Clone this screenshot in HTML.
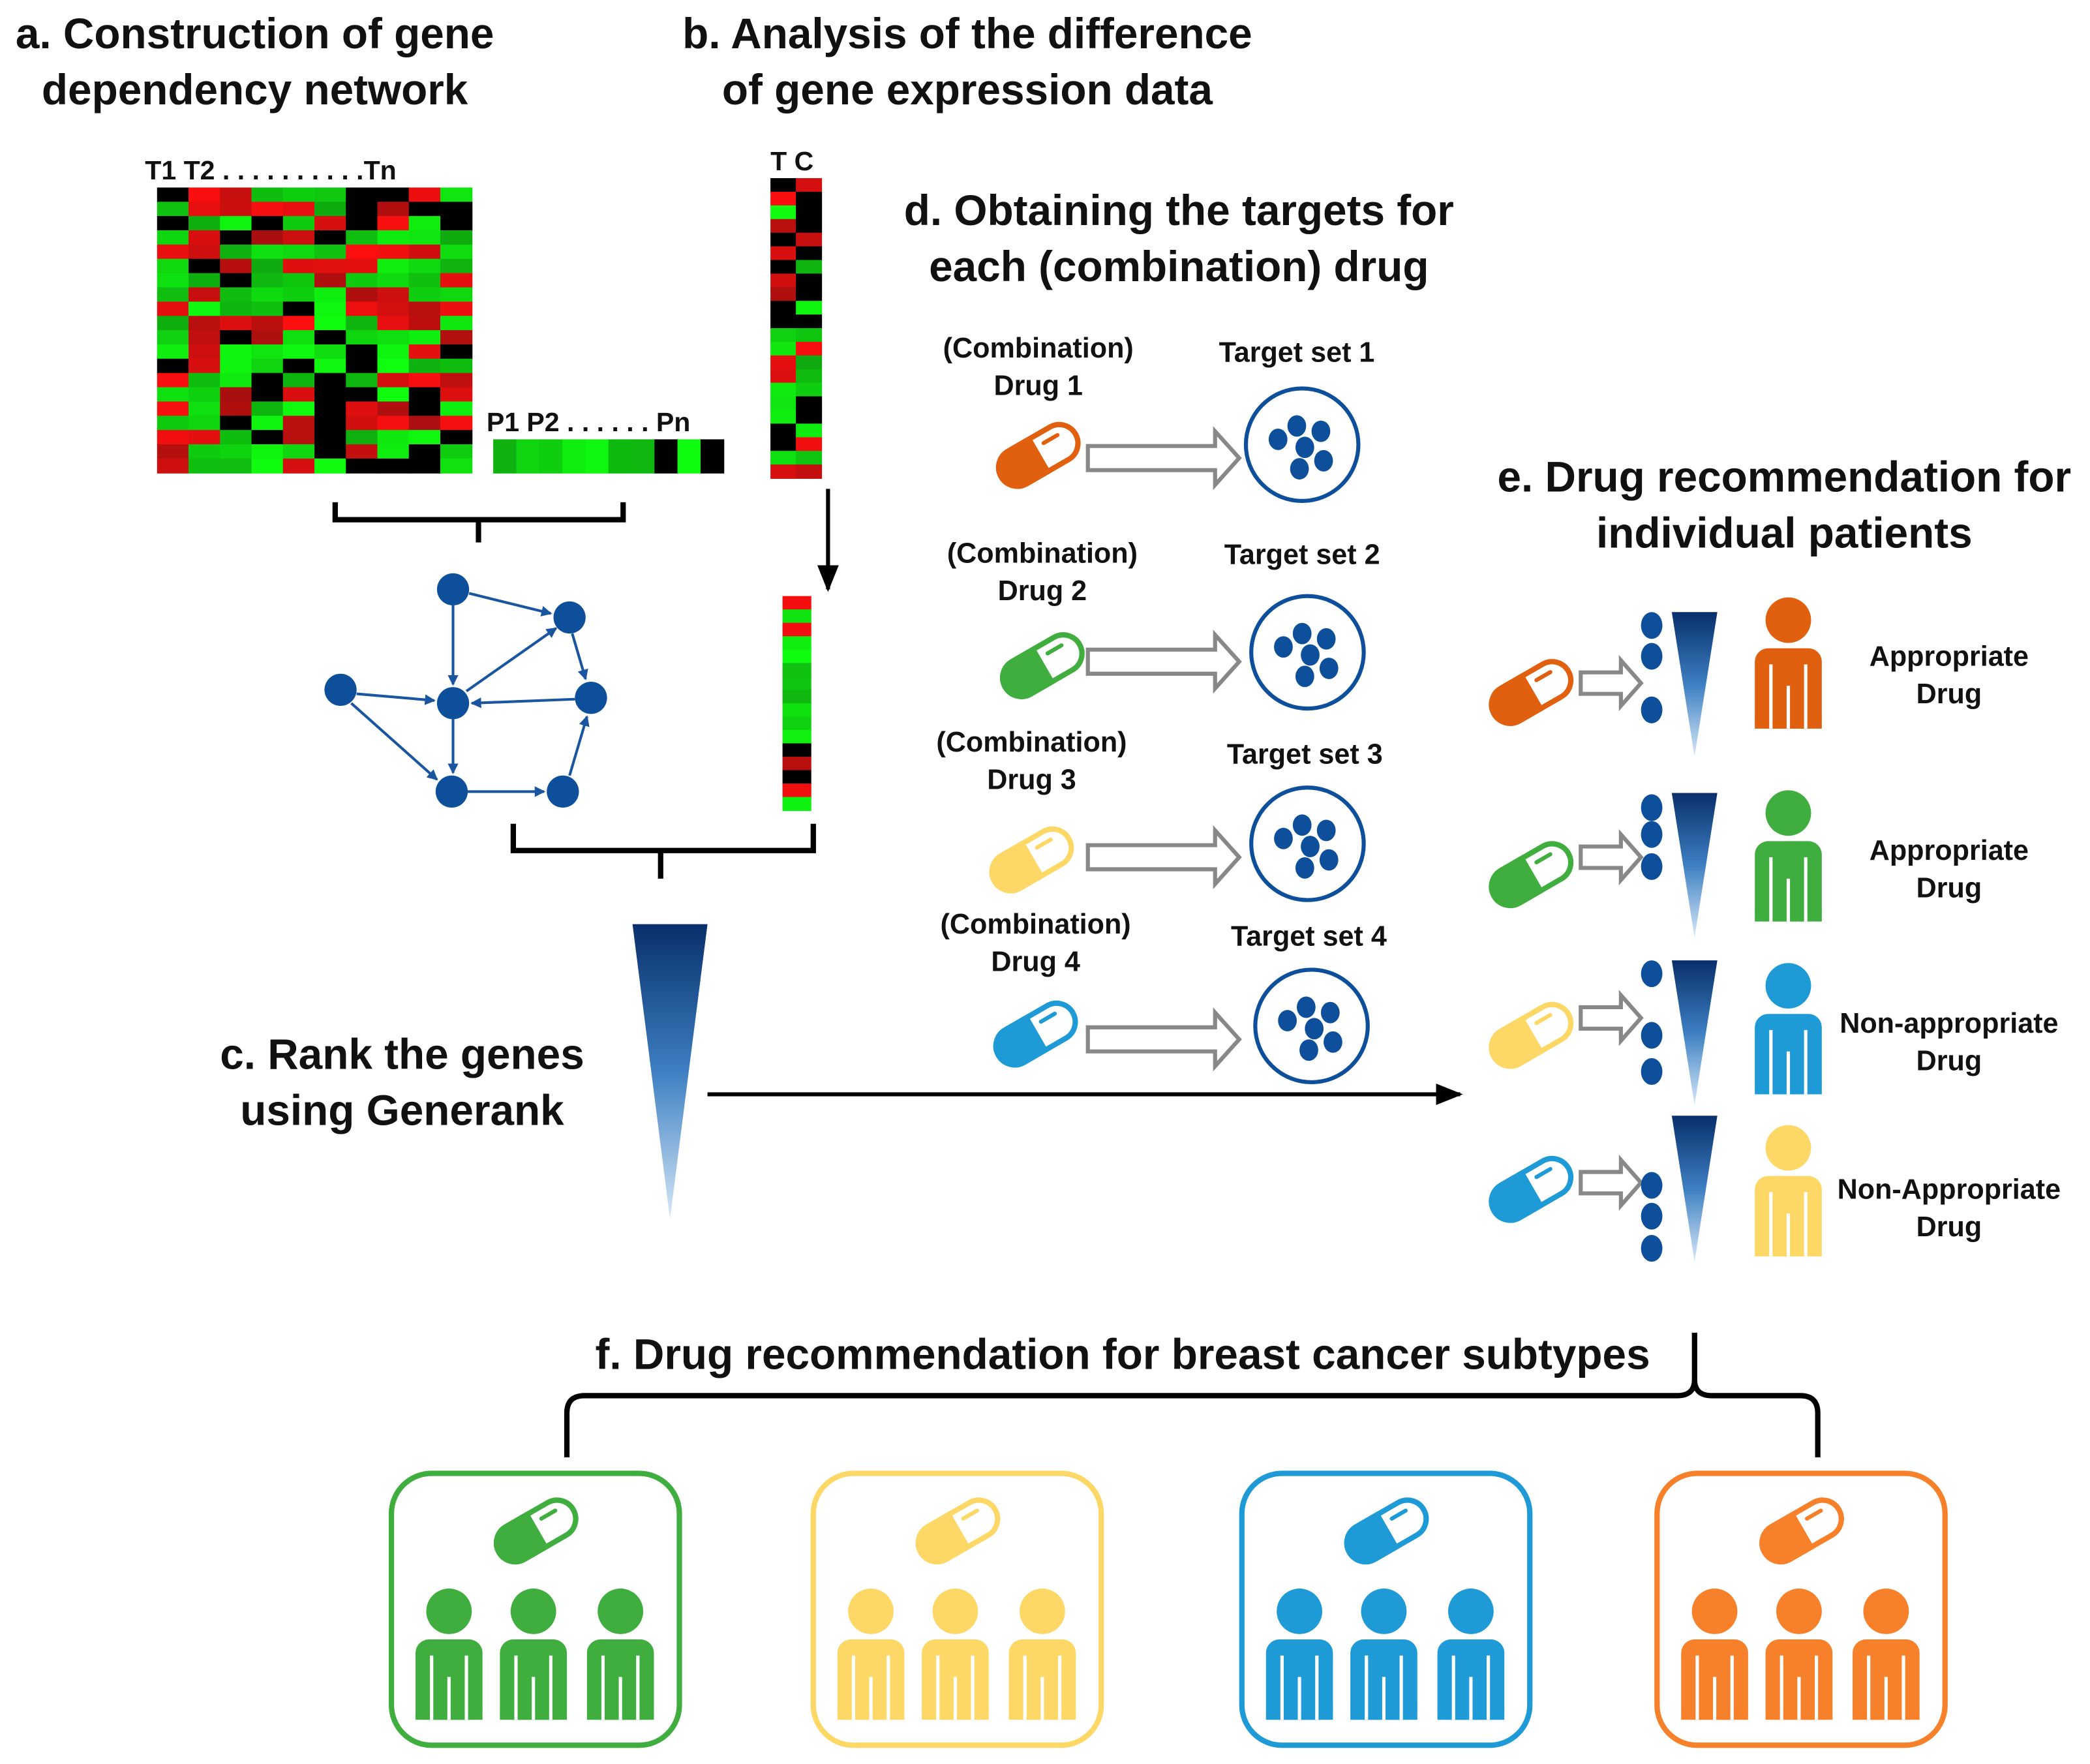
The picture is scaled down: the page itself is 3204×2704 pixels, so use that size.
<!DOCTYPE html>
<html><head><meta charset="utf-8"><style>
html,body{margin:0;padding:0;background:#fff}
svg{display:block}
text{font-family:"Liberation Sans",Arial,sans-serif;font-weight:bold;fill:#111}
</style></head><body>
<svg id="s" width="3204" height="2704" viewBox="0 0 1560 1317" xmlns="http://www.w3.org/2000/svg">
<defs>
<linearGradient id="tg" x1="0" y1="0" x2="0" y2="1"><stop offset="0" stop-color="#082f6b"/><stop offset="0.5" stop-color="#3d7fc2"/><stop offset="1" stop-color="#d6e8f8"/></linearGradient>
<marker id="ah" markerWidth="8" markerHeight="8" refX="7" refY="4" orient="auto" markerUnits="userSpaceOnUse"><path d="M0,0 L8,4 L0,8 z" fill="#1a56a0"/></marker>
<marker id="bh" markerWidth="20" markerHeight="16" refX="18" refY="8" orient="auto" markerUnits="userSpaceOnUse"><path d="M0,0 L20,8 L0,16 z" fill="#000"/></marker>
</defs>
<g id="heat"></g>
<text x="190" y="36" font-size="32" text-anchor="middle">a. Construction of gene</text>
<text x="190" y="78" font-size="32" text-anchor="middle">dependency network</text>
<text x="722" y="36" font-size="32" text-anchor="middle">b. Analysis of the difference</text>
<text x="722" y="78" font-size="32" text-anchor="middle">of gene expression data</text>
<text x="108" y="134" font-size="20">T1 T2 . . . . . . . . . .Tn</text>
<text x="363" y="322" font-size="20">P1 P2 . . . . . . Pn</text>
<text x="575" y="127" font-size="20">T C</text>
<path d="M250,375 V388 H465 V375 M357,388 V405" fill="none" stroke="#000" stroke-width="4"/>
<path d="M383,615 V635 H607 V615 M493,635 V656" fill="none" stroke="#000" stroke-width="4"/>
<line x1="618" y1="365" x2="618" y2="440" stroke="#000" stroke-width="3" marker-end="url(#bh)"/>
<g stroke="#1a56a0" stroke-width="2" marker-end="url(#ah)">
<line x1="350" y1="443" x2="411" y2="458"/>
<line x1="338" y1="452" x2="338" y2="511"/>
<line x1="266" y1="518" x2="324" y2="523"/>
<line x1="262" y1="525" x2="326" y2="582"/>
<line x1="348" y1="516" x2="415" y2="469"/>
<line x1="427" y1="473" x2="437" y2="507"/>
<line x1="429" y1="522" x2="352" y2="525"/>
<line x1="338" y1="537" x2="338" y2="577"/>
<line x1="349" y1="591" x2="406" y2="591"/>
<line x1="425" y1="579" x2="438" y2="535"/>
</g>
<g fill="#0d4f9a">
<circle cx="338" cy="440" r="12"/><circle cx="425" cy="461" r="12"/><circle cx="254" cy="515" r="12"/><circle cx="338" cy="525" r="12"/><circle cx="441" cy="521" r="12"/><circle cx="337" cy="591" r="12"/><circle cx="420" cy="591" r="12"/>
</g>
<polygon points="472,690 528,690 500,910" fill="url(#tg)"/>
<text x="300" y="798" font-size="32" text-anchor="middle">c. Rank the genes</text>
<text x="300" y="840" font-size="32" text-anchor="middle">using Generank</text>
<line x1="528" y1="817" x2="1090" y2="817" stroke="#000" stroke-width="3" marker-end="url(#bh)"/>
<text x="880" y="168" font-size="32" text-anchor="middle">d. Obtaining the targets for</text>
<text x="880" y="210" font-size="32" text-anchor="middle">each (combination) drug</text>
<text x="1332" y="367" font-size="32" text-anchor="middle">e. Drug recommendation for</text>
<text x="1332" y="409" font-size="32" text-anchor="middle">individual patients</text>
<text x="838" y="1022" font-size="32" text-anchor="middle">f. Drug recommendation for breast cancer subtypes</text>
<path d="M423,1088 V1055 Q423,1042 436,1042 H1252 Q1265,1042 1265,1030 V995 M1265,1030 Q1265,1042 1278,1042 H1344 Q1357,1042 1357,1055 V1088" fill="none" stroke="#000" stroke-width="4"/>
<g id="dyn"></g>
</svg>
<script>
var NS="http://www.w3.org/2000/svg";
function el(t,a,p){var e=document.createElementNS(NS,t);for(var k in a)e.setAttribute(k,a[k]);(p||document.getElementById('dyn')).appendChild(e);return e;}
var seed=7;function rnd(){seed=(seed*16807)%2147483647;return seed/2147483647;}
function col(){var r=rnd();if(r<0.22)return"#000";var v=Math.floor(170+rnd()*85);if(r<0.6)return"rgb("+v+",15,15)";return"rgb(15,"+v+",15)";}
var H=document.getElementById('heat');
function heat(x,y,w,h,c,r){var cw=w/c,rh=h/r;for(var i=0;i<c;i++)for(var j=0;j<r;j++)el('rect',{x:x+i*cw,y:y+j*rh,width:cw+0.5,height:rh+0.5,fill:col()},H);}
heat(117,140,235,213,10,20);
heat(368,328,172,25,10,1);
heat(575,133,38,224,2,22);
heat(584,445,21,160,1,16);
function pill(cx,cy,c,s){s=s||1;var g=el('g',{transform:"translate("+cx+","+cy+") rotate(-30) scale("+s+")"});
el('rect',{x:-32,y:-14,width:64,height:28,rx:14,fill:"#fff",stroke:c,"stroke-width":4},g);
el('path',{d:"M0,-14 H-18 A14,14 0 0 0 -18,14 H0 Z",fill:c,stroke:c,"stroke-width":4},g);
el('path',{d:"M8,-6 H20",stroke:c,"stroke-width":3,"stroke-linecap":"round"},g);}
function harrow(x0,x1,y,sh,hh,hl){el('polygon',{points:[x0,y-sh,x1-hl,y-sh,x1-hl,y-hh,x1,y,x1-hl,y+hh,x1-hl,y+sh,x0,y+sh].join(" "),fill:"#fff",stroke:"#888","stroke-width":3});}
function target(cx,cy,pts){el('circle',{cx:cx,cy:cy,r:42,fill:"#fff",stroke:"#0d4f9a","stroke-width":3});pts.forEach(function(p){el('ellipse',{cx:cx+p[0],cy:cy+p[1],rx:7,ry:8,fill:"#0d4f9a"});});}
function T(x,y,s,sz,anc){var t=el('text',{x:x,y:y,"font-size":sz,"text-anchor":anc||"middle"});t.textContent=s;}
var pts=[[-18,-4],[-4,-14],[14,-10],[16,12],[-2,18],[2,2]];
var D=[[775,267,340,342,972,332,968,270],[778,420,497,494,976,487,972,421],[770,561,642,640,976,630,974,570],[773,697,772,776,979,766,977,706]];
var DC=["#e0600f","#3fae3f","#fdd867","#1e9ad6"];
D.forEach(function(d,i){T(d[0],d[1],"(Combination)",21);T(d[0],d[1]+28,"Drug "+(i+1),21);pill(d[0],d[2],DC[i]);harrow(812,925,d[3],9,20,18);target(d[4],d[5],pts);T(d[6],d[7],"Target set "+(i+1),21);});
function person(cx,top,c,s){s=s||1;el('circle',{cx:cx,cy:top+17*s,r:17*s,fill:c});var bt=top+38*s,w=50*s,h=60*s;
el('rect',{x:cx-w/2,y:bt,width:w,height:h,rx:10*s,fill:c});
el('rect',{x:cx-w/2,y:bt+h-10*s,width:w,height:10*s,fill:c});
el('path',{d:"M"+(cx-13*s)+","+(bt+12*s)+" V"+(bt+h)+" M"+(cx+13*s)+","+(bt+12*s)+" V"+(bt+h)+" M"+cx+","+(bt+28*s)+" V"+(bt+h),stroke:"#fff","stroke-width":2.5*s});}
var E=[[517,510,[467,490,530],457,565,446,"#e0600f",497,"Appropriate"],[653,640,[603,623,647],592,700,590,"#3fae3f",642,"Appropriate"],[773,760,[727,773,800],717,825,719,"#1e9ad6",771,"Non-appropriate"],[888,883,[885,908,932],833,942,840,"#fdd867",895,"Non-Appropriate"]];
E.forEach(function(e){pill(1143,e[0],e[6]==="#1e9ad6"?"#fdd867":e[6]==="#fdd867"?"#1e9ad6":e[6]);harrow(1180,1225,e[1],8,17,15);
e[2].forEach(function(y){el('ellipse',{cx:1233,cy:y,rx:8,ry:10,fill:"#0d4f9a"});});
el('polygon',{points:"1248,"+e[3]+" 1282,"+e[3]+" 1265,"+e[4],fill:"url(#tg)"});
person(1335,e[5],e[6]);T(1455,e[7],e[8],21);T(1455,e[7]+28,"Drug",21);});
var B=[[292,"#3fae3f"],[607,"#fdd867"],[927,"#1e9ad6"],[1237,"#f7802a"]];
B.forEach(function(b){var x=b[0];el('rect',{x:x,y:1100,width:215,height:203,rx:30,fill:"#fff",stroke:b[1],"stroke-width":4});
pill(x+108,1143,b[1]);[43,106,171].forEach(function(o){person(x+o,1186,b[1]);});});
</script>
</body></html>
